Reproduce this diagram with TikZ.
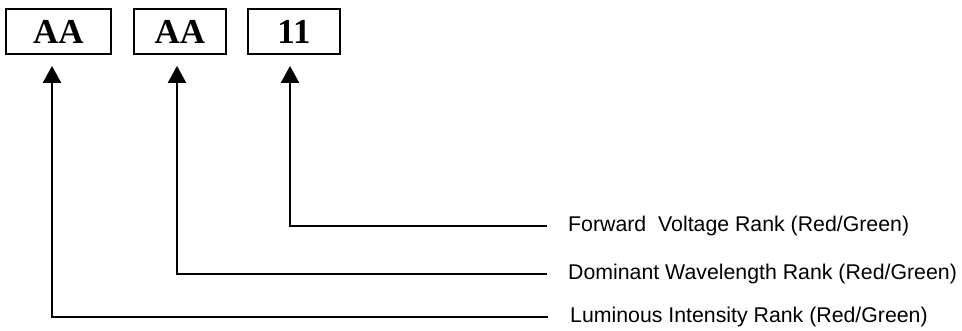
\documentclass[tikz,border=0pt]{standalone}
\usepackage{fontspec}
\setmainfont{Liberation Serif}
\newfontfamily\arialfont{Liberation Sans}
\usetikzlibrary{arrows.meta}
\tikzset{
	rankbox/.style={draw,line width=1.8pt,minimum height=45pt,inner sep=0pt,font=\fontsize{35}{40}\selectfont\bfseries},
	ranklabel/.style={anchor=west,inner sep=0pt,font=\arialfont\fontsize{21.3}{24}\selectfont},
	rankline/.style={line width=2.3pt,-{Triangle[length=17pt,width=18pt]}}
}
\begin{document}
	\begin{tikzpicture}[x=1pt,y=-1pt]
		\useasboundingbox (0,0) rectangle (962,331);
		\node[rankbox,minimum width=105pt] (b1) at (58.5,31.5) {AA};
		\node[rankbox,minimum width=92pt] (b2) at (180,31.5) {AA};
		\node[rankbox,minimum width=92pt] (b3) at (294,31.5) {11};
		\node[ranklabel] (fwd) at (568,226) {Forward\ \ Voltage Rank (Red/Green)};
		\node[ranklabel] (dom) at (568,274) {Dominant Wavelength Rank (Red/Green)};
		\node[ranklabel] (lum) at (570,317) {Luminous Intensity Rank (Red/Green)};
		\draw[rankline] ([xshift=-21pt]fwd.west) -| ([xshift=-4pt,yshift=-11pt]b3.south);
		\draw[rankline] ([xshift=-21pt]dom.west) -| ([xshift=-3pt,yshift=-11pt]b2.south);
		\draw[rankline] ([xshift=-22pt]lum.west) -| ([xshift=-6.5pt,yshift=-11pt]b1.south);
	\end{tikzpicture}
\end{document}
